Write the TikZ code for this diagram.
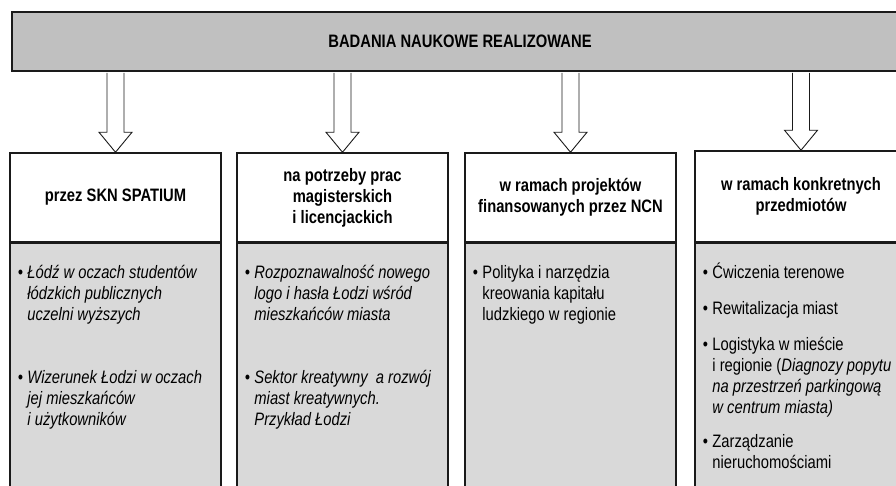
\documentclass[tikz,border=0pt]{standalone}
\usepackage{fontspec}
\setmainfont{Liberation Sans}[FakeStretch=0.82]
\usetikzlibrary{calc}
\definecolor{titlegray}{HTML}{C0C0C0}
\definecolor{bodygray}{HTML}{D9D9D9}
\definecolor{edge}{HTML}{1A1A1A}
\tikzset{
  titlebox/.style={draw=edge, line width=2pt, fill=titlegray, minimum width=896pt, minimum height=59pt, inner sep=0pt, font=\fontsize{18}{21}\selectfont\bfseries},
  headbox/.style={draw=edge, line width=1.5pt, fill=white, minimum height=89pt, inner sep=0pt, align=center, font=\fontsize{18}{21}\selectfont\bfseries},
  bodybox/.style={draw=edge, line width=1.5pt, fill=bodygray, minimum height=262pt, inner sep=0pt, anchor=north},
  itembox/.style={anchor=base west, inner sep=0pt, font=\fontsize{18}{21}\selectfont},
  blockarrow/.style={draw=edge, line width=0.9pt, fill=white, line join=miter},
  divider/.style={draw=edge, line width=2.4pt},
}
\newcommand{\bulitem}[1]{\makebox[9.5pt][l]{•}\begin{tabular}[t]{@{}l@{}}#1\end{tabular}}
\begin{document}
\begin{tikzpicture}[x=1pt,y=-1pt]
\useasboundingbox (0,0) rectangle (896,486);
\clip (0,0) rectangle (896,486);
% title
\node[titlebox] (title) at (460,41.5) {BADANIA NAUKOWE REALIZOWANE};
% header positions (drawn later over bodies)
\path (115.5,197.5) node[headbox, minimum width=211pt, draw=none, fill=none] (h1) {}
      (342.5,197.5) node[headbox, minimum width=211pt, draw=none, fill=none] (h2) {}
      (570.5,197.5) node[headbox, minimum width=211pt, draw=none, fill=none] (h3) {}
      (801,196.5) node[headbox, minimum width=212pt, minimum height=91pt, draw=none, fill=none] (h4) {};
% bodies
\node[bodybox, minimum width=211pt] (b1) at (h1.south) {};
\node[bodybox, minimum width=211pt] (b2) at (h2.south) {};
\node[bodybox, minimum width=211pt] (b3) at (h3.south) {};
\node[bodybox, minimum width=212pt] (b4) at (h4.south) {};
% headers
\node[headbox, minimum width=211pt] (hh1) at (h1) {przez SKN SPATIUM};
\node[headbox, minimum width=211pt] (hh2) at (h2) {na potrzeby prac\\magisterskich\\i licencjackich};
\node[headbox, minimum width=211pt] (hh3) at (h3) {w ramach projektów\\finansowanych przez NCN};
\node[headbox, minimum width=212pt, minimum height=91pt] (hh4) at (h4) {w ramach konkretnych\\przedmiotów};
\foreach \h in {hh1,hh2,hh3,hh4}{
  \draw[divider] (\h.south west) -- (\h.south east);
}
% arrows
\foreach \h in {hh1,hh2,hh3,hh4}{
  \draw[blockarrow] let \p1=(title.south -| \h.north), \p2=(\h.north) in
    (\x1-8.5pt,\y1-1pt) -- (\x1-8.5pt,\y2+20pt) -- (\x1-16.5pt,\y2+20pt) -- (\x2,\y2)
    -- (\x1+16.5pt,\y2+20pt) -- (\x1+8.5pt,\y2+20pt) -- (\x1+8.5pt,\y1-1pt);
}
% items box 1
\node[itembox] (i11) at ($(b1.north west)+(8.5,36)$) {\itshape\bulitem{Łódź w oczach studentów\\łódzkich publicznych\\uczelni wyższych}};
\node[itembox] (i12) at ($(b1.north west)+(8.5,141)$) {\itshape\bulitem{Wizerunek Łodzi w oczach\\jej mieszkańców\\i użytkowników}};
% items box 2
\node[itembox] (i21) at ($(b2.north west)+(8.5,36)$) {\itshape\bulitem{Rozpoznawalność nowego\\logo i hasła Łodzi wśród\\mieszkańców miasta}};
\node[itembox] (i22) at ($(b2.north west)+(8.5,141)$) {\itshape\bulitem{Sektor kreatywny~ a rozwój\\miast kreatywnych.\\Przykład Łodzi}};
% items box 3
\node[itembox] (i31) at ($(b3.north west)+(8.5,36)$) {\bulitem{Polityka i narzędzia\\kreowania kapitału\\ludzkiego w regionie}};
% items box 4
\node[itembox] (i41) at ($(b4.north west)+(8.5,36)$) {\bulitem{Ćwiczenia terenowe}};
\node[itembox] (i42) at ($(b4.north west)+(8.5,72)$) {\bulitem{Rewitalizacja miast}};
\node[itembox] (i43) at ($(b4.north west)+(8.5,108)$) {\bulitem{Logistyka w mieście\\i regionie (\textit{Diagnozy popytu}\\\textit{na przestrzeń parkingową}\\\textit{w centrum miasta)}}};
\node[itembox] (i44) at ($(b4.north west)+(8.5,205)$) {\bulitem{Zarządzanie\\nieruchomościami}};
\end{tikzpicture}
\end{document}
